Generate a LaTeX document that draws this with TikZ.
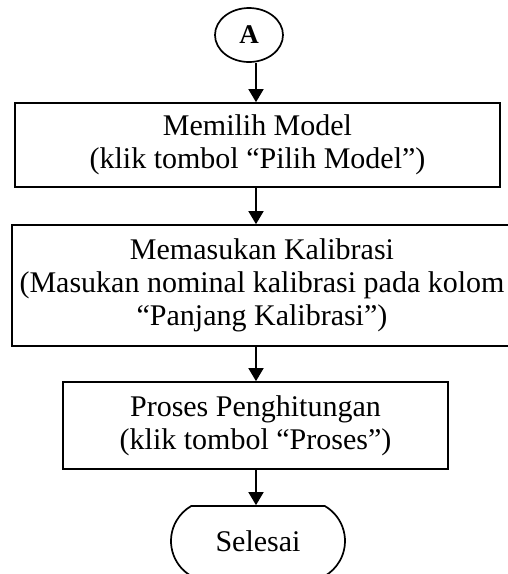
\documentclass[tikz,border=0pt]{standalone}
\usepackage{fontspec}
\setmainfont{Liberation Serif}
\usetikzlibrary{arrows.meta,shapes.misc,shapes.geometric}
\tikzset{
  box/.style={draw, line width=1.7pt, rectangle, align=center, inner sep=0pt,
    font=\fontsize{30}{33}\selectfont},
  term/.style={draw, line width=1.7pt, rounded rectangle, rounded rectangle arc length=120,
    inner sep=0pt, font=\fontsize{30}{33}\selectfont},
  conn/.style={draw, ellipse, line width=1.7pt, inner sep=0pt,
    font=\fontsize{27}{30}\selectfont\bfseries},
  arr/.style={line width=1.7pt, -{Triangle[length=13pt,width=15pt]}}
}
\begin{document}
\begin{tikzpicture}[x=1pt,y=-1pt]
\useasboundingbox (0,0) rectangle (508,574);
\clip (0,0) rectangle (508,574);
\node[conn, minimum width=68pt, minimum height=54pt] (A) at (249,35) {\raisebox{-3pt}{A}};
\node[box, minimum width=485pt, minimum height=84pt] (b1) at (257.5,145)
  {Memilih Model\\(klik tombol “Pilih Model”)};
\node[box, minimum width=500pt, minimum height=121pt] (b2) at (262,285.5)
  {Memasukan Kalibrasi\\(Masukan nominal kalibrasi pada kolom\\“Panjang Kalibrasi”)};
\node[box, minimum width=385pt, minimum height=87pt] (b3) at (255.5,425.5)
  {Proses Penghitungan\\(klik tombol “Proses”)};
\node[term, minimum width=174pt, minimum height=70pt] (e) at (258,541) {Selesai};
\coordinate (ax) at (256,0);
\draw[arr] (A.south -| ax) -- (b1.north -| ax);
\draw[arr] (b1.south -| ax) -- (b2.north -| ax);
\draw[arr] (b2.south -| ax) -- (b3.north -| ax);
\draw[arr] (b3.south -| ax) -- (e.north -| ax);
\end{tikzpicture}
\end{document}
